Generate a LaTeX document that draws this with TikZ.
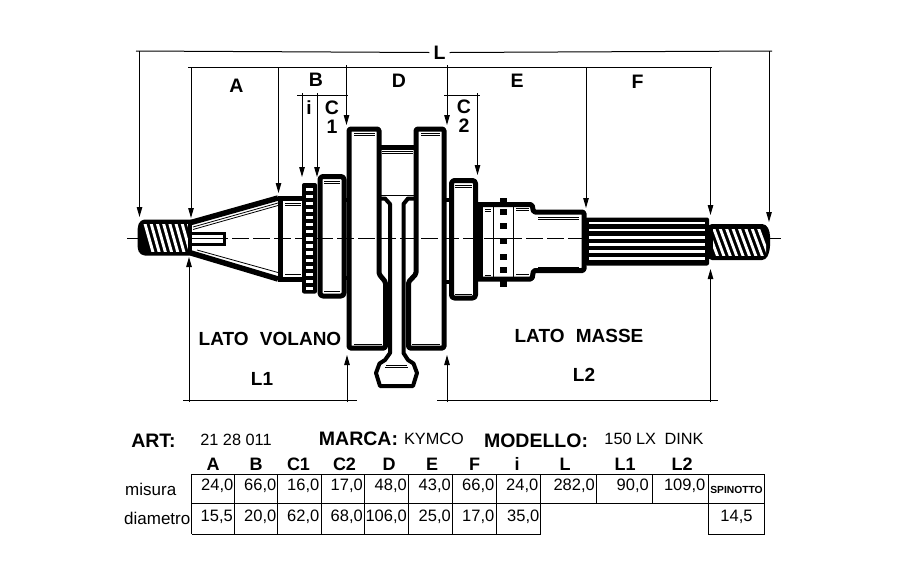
\documentclass[tikz,border=0pt]{standalone}
\usepackage{fontspec}
\setmainfont{Liberation Sans}
\usetikzlibrary{arrows.meta}
\tikzset{
  thick part/.style={line width=5pt,line join=round,rounded corners=1.5pt},
  med part/.style={line width=4pt,line join=round},
  hair/.style={line width=0.8pt},
  dim/.style={line width=1pt},
  dimarrow/.style={dim,-{Triangle[length=10pt,width=5.5pt]}},
  centre/.style={line width=1pt,dash pattern=on 17pt off 4pt},
  lbl/.style={font=\bfseries\fontsize{19.5}{20}\selectfont,inner sep=0pt},
  big/.style={font=\bfseries\fontsize{19}{20}\selectfont,inner sep=0pt},
  plain/.style={font=\fontsize{16.3}{17}\selectfont,inner sep=0pt},
  side/.style={font=\fontsize{17}{17}\selectfont,inner sep=0pt,anchor=west},
  headc/.style={font=\bfseries\fontsize{18}{18}\selectfont,inner sep=0pt,anchor=base},
  cella/.style={font=\fontsize{16.5}{17}\selectfont,inner sep=0pt,anchor=base east},
  grid/.style={line width=1pt}
}
\begin{document}
\begin{tikzpicture}[x=1pt,y=-1pt]
\useasboundingbox (0,0) rectangle (901,563);
\fill[white] (0,0) rectangle (901,563);
% centre line
\draw[centre] (127,238.5) -- (781,238.5);

% left thread
\begin{scope}
\draw[thick part,rounded corners=3pt,fill=white] (192,222) -- (142,222) -- (140,228) -- (140,248) -- (142,253) -- (192,253);
\clip (142,224) rectangle (190,251);
\fill (141,222) rectangle (191,254);
\foreach \k in {0,...,7}{
  \fill[white] ({143+6.2*\k},222) -- ({146+6.2*\k},222) -- ({155+6.2*\k},254) -- ({152+6.2*\k},254) -- cycle;
}
\end{scope}
\draw[line width=3.5pt] (190,222) -- (190,254);
% keyway
\draw[line width=3pt] (192,233) -- (224,233) -- (224,244) -- (192,244);
\draw[line width=0.8pt] (192,238) -- (220,238);
% cone
\draw[line width=5.5pt,line join=round] (191,222.5) -- (278,198);
\draw[line width=5.5pt,line join=round] (191,253) -- (278,279);
\draw[hair] (193,229.5) -- (278,205.5);
\draw[hair] (193,227) -- (278,203);
\draw[hair] (197,250) -- (278,272.5);
% flywheel-side collar
\draw[thick part] (278,198) -- (304,198);
\draw[thick part] (278,279) -- (304,279);
\draw[line width=5pt] (280.5,198) -- (280.5,279);
\draw[hair] (285,203) -- (301,203);
\draw[hair] (285,205) -- (301,205);
\draw[hair] (285,274) -- (301,274);
% gear
\fill[rounded corners=2pt] (302,183) rectangle (317,293.5);
\foreach \k in {0,...,14}{
  \fill[white] (306,{187.5+7.1*\k}) rectangle (313,{190.8+7.1*\k});
}
% C1 disc
\draw[thick part,rounded corners=3pt] (320,176.5) rectangle (344,296);
\draw[hair] (324,181) -- (340,181);
\draw[hair] (324,183) -- (340,183);
\draw[hair] (324,291) -- (340,291);
\draw[line width=4pt] (344,200) -- (350,200);
\draw[line width=4pt] (344,278) -- (350,278);

% left web
\draw[thick part] (349,129) -- (379,129) -- (379,274) -- (385.5,282) -- (385.5,348) -- (349,348) -- cycle;
\draw[hair] (354,133) -- (375,133);
\draw[hair] (354,135.5) -- (375,135.5);
\draw[hair] (354,344) -- (382,344);
% right web
\draw[thick part] (444,129) -- (416,129) -- (416,274) -- (408.5,282) -- (408.5,348) -- (444,348) -- cycle;
\draw[hair] (421,133) -- (440,133);
\draw[hair] (421,135.5) -- (440,135.5);
\draw[hair] (412,344) -- (440,344);
% crank pin
\draw[line width=5pt] (379,147.5) -- (416,147.5);
\draw[hair] (382,151.5) -- (413,151.5);
\draw[hair] (382,153.5) -- (413,153.5);
\draw[hair] (381,195) -- (414,195);
% con rod
\draw[med part] (379,198.5) -- (385,198.5) -- (390,204) -- (390,353) -- (385,360) -- (379.5,363.5) -- (376,373) -- (380,386) -- (413,386) -- (417,373) -- (413.5,363.5) -- (408,360) -- (403.5,353) -- (403.5,204) -- (408,198.5) -- (416,198.5);
\draw[hair] (386,365) -- (407,365);
\draw[hair] (385,367) -- (408,367);
\draw[hair] (385,384) -- (408,384);

% C2 disc
\draw[line width=4pt] (444,200) -- (452,200);
\draw[line width=4pt] (444,282) -- (452,282);
\draw[thick part,rounded corners=3pt] (451.5,180.5) rectangle (475.5,298);
\draw[hair] (455,185) -- (472,185);
\draw[hair] (455,187) -- (472,187);
\draw[hair] (455,294) -- (472,294);

% bearing
\draw[thick part] (476,204.5) -- (532,204.5) -- (533.5,212) -- (584,212) -- (584,270.5) -- (533.5,270.5) -- (532,279) -- (476,279);
\draw[line width=5pt] (480,204.5) -- (480,279);
\draw[hair] (493,204) -- (493,279);
\draw[hair] (513,204) -- (513,279);
\draw[hair] (485,209) -- (491,209);
\draw[hair] (485,211) -- (491,211);
\draw[hair] (485,275) -- (491,275);
\draw[hair] (516,208.5) -- (529,208.5);
\draw[hair] (516,210.5) -- (529,210.5);
\draw[hair] (516,274) -- (529,274);
\draw[hair] (538,217) -- (579,217);
\draw[hair] (538,219) -- (579,219);
\draw[hair] (538,267) -- (579,267);
\foreach \yy in {212,226,241,257,270}{
  \fill (500,{\yy-3}) rectangle (507,{\yy+3});
}
\fill (500,198) rectangle (507,204);
\fill (500,281) rectangle (507,287);

% splines
\fill[rounded corners=2pt] (585,217.5) rectangle (709,265.5);
\foreach \yy in {223,230,237.5,244.5,251.5,258.5}{
  \fill[white] (589,{\yy-1.1}) rectangle (705,{\yy+1.1});
}
% right thread
\begin{scope}
\fill[rounded corners=4pt] (708,224) -- (766,224) -- (770,232) -- (770,250) -- (766,260) -- (708,260) -- cycle;
\clip (713,229.5) rectangle (766,255);
\foreach \k in {0,...,8}{
  \fill[white] ({706+6.4*\k},229) -- ({709+6.4*\k},229) -- ({719+6.4*\k},256) -- ({716+6.4*\k},256) -- cycle;
}
\end{scope}
\draw[line width=1pt] (766,238.5) -- (781,238.5);

% dimension coordinates
\coordinate (Ltop1) at (139.5,51); \coordinate (Ltip1) at (139.5,217);
\coordinate (Ltop2) at (769,51);   \coordinate (Ltip2) at (769,222);
\coordinate (Atop) at (191,67);    \coordinate (Atip) at (191,218);
\coordinate (Btop) at (278.5,67);  \coordinate (Btip) at (278.5,193);
\coordinate (Dtop1) at (346.5,65); \coordinate (Dtip1) at (346.5,125);
\coordinate (Dtop2) at (447,65);   \coordinate (Dtip2) at (447,125);
\coordinate (itop) at (302,93);    \coordinate (itip) at (302,177);
\coordinate (ctop) at (317,93);    \coordinate (ctip) at (317,177);
\coordinate (c2top) at (477.5,93); \coordinate (c2tip) at (477.5,175);
\coordinate (Etop) at (586,67);    \coordinate (Etip) at (586,208);
\coordinate (Ftop) at (710.5,67);  \coordinate (Ftip) at (710.5,215);
\coordinate (L1a) at (189,402);    \coordinate (L1atip) at (189,257);
\coordinate (L1b) at (347,402);    \coordinate (L1btip) at (347,355);
\coordinate (L2a) at (447,402);    \coordinate (L2atip) at (447,355);
\coordinate (L2b) at (710.5,402);  \coordinate (L2btip) at (710.5,269);

\node[lbl] (Ln) at (439.5,52.5) {L};
\draw[dim] (136,51) -- ([xshift=-4pt]Ln.west);
\draw[dim] ([xshift=4pt]Ln.east) -- (772,51);
\draw[dim] (188,67) -- (712,67);
\draw[dim] (297,95) -- (348,95);
\draw[dim] (444,95) -- (480,95);
\draw[dim] (183,400) -- (357,400);
\draw[dim] (437,400) -- (718,400);
\foreach \a/\b in {Ltop1/Ltip1,Ltop2/Ltip2,Atop/Atip,Btop/Btip,Dtop1/Dtip1,Dtop2/Dtip2,itop/itip,ctop/ctip,c2top/c2tip,Etop/Etip,Ftop/Ftip,L1a/L1atip,L1b/L1btip,L2a/L2atip,L2b/L2btip}
  \draw[dimarrow] (\a) -- (\b);

% labels
\node[lbl] (la) at (236.5,86) {A};
\node[lbl] (lb) at (316,79.5) {B};
\node[lbl] (ld) at (399,80.5) {D};
\node[lbl] (le) at (517,81) {E};
\node[lbl] (lf) at (637.5,82) {F};
\node[big] (li) at (309,107.5) {i};
\node[lbl] (lc1a) at (332,108) {C};
\node[lbl] (lc1b) at (332,127) {1};
\node[lbl] (lc2a) at (464,107) {C};
\node[lbl] (lc2b) at (464,125.5) {2};
\node[big] (lv) at (270,339) {LATO\hspace{6pt} VOLANO};
\node[big] (lm) at (579,336) {LATO\hspace{6pt} MASSE};
\node[big] (l1) at (262,379) {L1};
\node[big] (l2) at (584,375) {L2};

% header texts
\node[lbl] (art) at (153.5,441) {ART:};
\node[plain] (artv) at (236,440) {21 28 011};
\node[lbl] (marca) at (358.5,439) {MARCA:};
\node[plain] (marcav) at (434,439) {KYMCO};
\node[lbl] (modello) at (536,441) {MODELLO:};
\node[plain] (modellov) at (654,439) {150 LX\hspace{4pt} DINK};
\node[side] (mis) at (125,489) {misura};
\node[side] (dia) at (124,518.5) {diametro};

% table grid
\draw[grid] (191.5,474) -- (764.5,474);
\draw[grid] (191.5,503) -- (764.5,503);
\draw[grid] (191.5,534) -- (540.5,534);
\draw[grid] (708,534) -- (764.5,534);
\foreach \xx in {191.5,234.5,277.5,321,364.5,408,452.5,496.5,540.5}
  \draw[grid] (\xx,474) -- (\xx,534);
\foreach \xx in {596.5,652.5}
  \draw[grid] (\xx,474) -- (\xx,503);
\foreach \xx in {708,764.5}
  \draw[grid] (\xx,474) -- (\xx,534);

% headings
\foreach \nm/\xx in {A/213,B/256,C1/298.5,C2/344.5,D/389,E/432,F/474.5,i/517,L/565,L1/625,L2/682}
  \node[headc] (h\nm) at (\xx,470) {\nm};
% rows
\foreach \v/\xx in {{24,0}/233.5,{66,0}/276.5,{16,0}/319.5,{17,0}/363,{48,0}/407,{43,0}/451,{66,0}/494.5,{24,0}/538.5,{282,0}/595,{90,0}/649,{109,0}/705.5}
  \node[cella] at (\xx,490) {\v};
\foreach \v/\xx in {{15,5}/233,{20,0}/276.5,{62,0}/319.5,{68,0}/363,{106,0}/407,{25,0}/451,{17,0}/494.5,{35,0}/539.5}
  \node[cella] at (\xx,521) {\v};
\node[font=\bfseries\fontsize{10.3}{11}\selectfont,inner sep=0pt] (spin) at (736.5,489.5) {SPINOTTO};
\node[font=\fontsize{16.5}{17}\selectfont,inner sep=0pt] (spv) at (736.5,517) {14,5};
\end{tikzpicture}
\end{document}
